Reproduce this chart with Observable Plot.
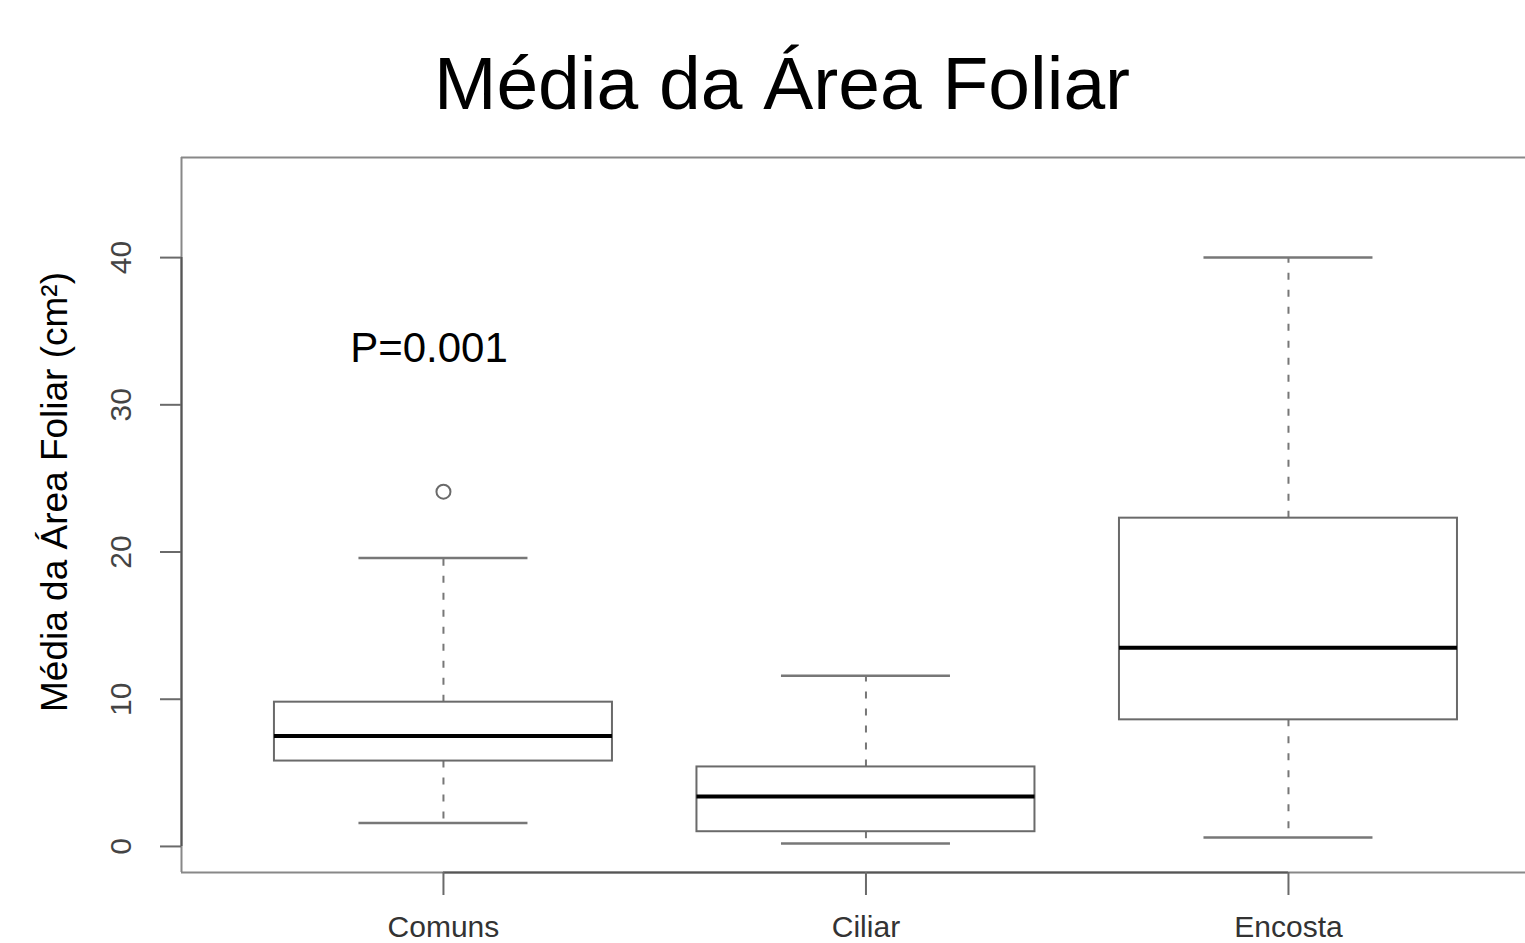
<!DOCTYPE html>
<html><head><meta charset="utf-8">
<script src="https://cdn.jsdelivr.net/npm/d3@7"></script>
<script src="https://cdn.jsdelivr.net/npm/@observablehq/plot@0.6"></script>
<style>
html,body{margin:0;padding:0;background:#fff;overflow:hidden;width:1525px;height:943px;}
#wrap{position:relative;width:1525px;height:943px;font-family:"Liberation Sans",Arial,sans-serif;}
#title{position:absolute;left:0;top:40px;width:1525px;padding-left:39px;box-sizing:border-box;text-align:center;font-size:75px;line-height:normal;color:#000;white-space:nowrap;}
#chart{position:absolute;left:0;top:140px;}
</style></head>
<body>
<div id="wrap">
  <div id="title">Média da Área Foliar</div>
  <div id="chart"></div>
</div>
<script>
// Data
const categories = ["Comuns", "Ciliar", "Encosta"];
const lowerWhisker = [1.6, 0.2, 0.6];
const q1 = [5.8, 1.0, 8.6];
const median = [7.5, 3.4, 13.5];
const q3 = [9.8, 5.4, 22.3];
const upperWhisker = [19.6, 11.6, 40.0];
const outlierGroups = ["Comuns"];
const outlierValues = [24.1];
const yTicks = [0, 10, 20, 30, 40];
const yLabel = "Média da Área Foliar (cm²)";
const pText = "P=0.001";
const pGroup = "Comuns";
const pValueY = 33.8;

const rows = categories.map((c, i) => ({
  cat: c, pos: i + 1,
  lower: lowerWhisker[i], q1: q1[i], median: median[i], q3: q3[i], upper: upperWhisker[i]
}));
const outliers = outlierGroups.map((g, i) => ({pos: categories.indexOf(g) + 1, value: outlierValues[i]}));
const annot = [{pos: categories.indexOf(pGroup) + 1, value: pValueY, text: pText}];

const xDomain = [0.38, 3.561];
const yDomain = [-1.77, 46.8];
const boxHalf = 0.4, capHalf = 0.2;
const gray = "#6a6a6a";

const chart = Plot.plot({
  width: 1525,
  height: 803,
  marginTop: 17,
  marginBottom: 71,
  marginLeft: 181,
  marginRight: 0,
  style: {fontFamily: "'Liberation Sans', Arial, sans-serif", background: "white", overflow: "visible"},
  x: {type: "linear", domain: xDomain},
  y: {type: "linear", domain: yDomain},
  marks: [
    // plot frame (top, bottom, left; right edge lies beyond the window)
    Plot.ruleY([yDomain[1], yDomain[0]], {stroke: "#888", strokeWidth: 2}),
    Plot.ruleX([xDomain[0]], {stroke: "#888", strokeWidth: 2}),
    // axis lines
    Plot.ruleX([xDomain[0]], {y1: yTicks[0], y2: yTicks[yTicks.length - 1], stroke: "#555", strokeWidth: 2}),
    Plot.ruleY([yDomain[0]], {x1: 1, x2: categories.length, stroke: "#555", strokeWidth: 2}),
    Plot.axisY({ticks: yTicks, tickSize: 21, tickFormat: () => "", stroke: gray, strokeWidth: 2, label: null}),
    Plot.text(yTicks, {y: d => d, text: d => String(d), frameAnchor: "left", textAnchor: "middle", dx: -60, rotate: -90, fontSize: 30, fill: "#444"}),
    Plot.axisX({ticks: [1, 2, 3], tickFormat: d => categories[d - 1], tickSize: 23, tickPadding: 20, fontSize: 30, stroke: gray, strokeWidth: 2, fill: "#333", label: null}),
    // whiskers
    Plot.ruleX(rows, {x: "pos", y1: "q3", y2: "upper", stroke: "#777", strokeWidth: 2, strokeDasharray: "7,10"}),
    Plot.ruleX(rows, {x: "pos", y1: "q1", y2: "lower", stroke: "#777", strokeWidth: 2, strokeDasharray: "7,10"}),
    Plot.ruleY(rows, {y: "upper", x1: d => d.pos - capHalf, x2: d => d.pos + capHalf, stroke: "#777", strokeWidth: 2.5}),
    Plot.ruleY(rows, {y: "lower", x1: d => d.pos - capHalf, x2: d => d.pos + capHalf, stroke: "#777", strokeWidth: 2.5}),
    // boxes
    Plot.rect(rows, {x1: d => d.pos - boxHalf, x2: d => d.pos + boxHalf, y1: "q1", y2: "q3", fill: "white", stroke: gray, strokeWidth: 2}),
    Plot.ruleY(rows, {y: "median", x1: d => d.pos - boxHalf, x2: d => d.pos + boxHalf, stroke: "#000", strokeWidth: 4}),
    // outliers
    Plot.dot(outliers, {x: "pos", y: "value", r: 7, stroke: gray, strokeWidth: 2, fill: "white"}),
    // annotation
    Plot.text(annot, {x: "pos", y: "value", text: "text", dx: -14.5, fontSize: 42, fill: "#000"}),
    // y axis title
    Plot.text([yLabel], {text: d => d, frameAnchor: "left", textAnchor: "middle", dx: -126, dy: -23, rotate: -90, fontSize: 37, fill: "#000"})
  ]
});
document.getElementById("chart").appendChild(chart);
</script>
</body></html>
